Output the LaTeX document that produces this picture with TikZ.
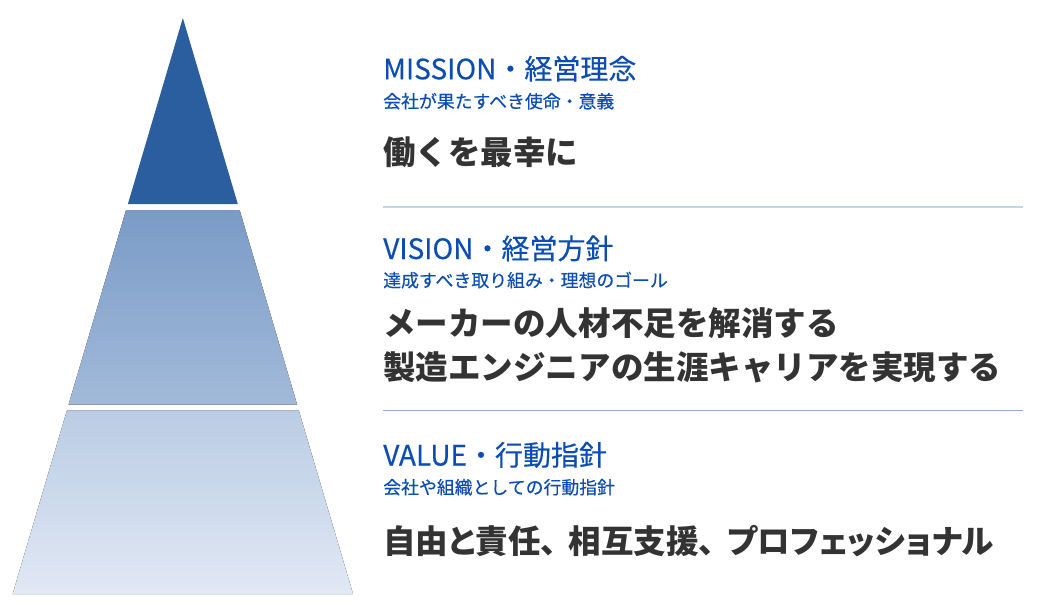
\documentclass[tikz,border=0pt]{standalone}
\usepackage{fontspec}
\setmainfont{Noto Sans CJK JP}
\newfontfamily\medfont{Noto Sans CJK JP}[FakeBold=0.35]
\definecolor{tblue}{HTML}{0B4DB3}
\definecolor{tdark}{HTML}{333333}
\definecolor{band1}{HTML}{2B5E9E}
\definecolor{band2t}{HTML}{7A9BC7}
\definecolor{band2b}{HTML}{A2BAD9}
\definecolor{band3t}{HTML}{BACCE4}
\definecolor{band3b}{HTML}{E1E8F4}
\definecolor{sepa}{HTML}{C3D4ED}
\definecolor{sepb}{HTML}{94ABDD}
\begin{document}
\begin{tikzpicture}[x=0.75pt,y=-0.75pt,
  titletext/.style={anchor=base west,inner sep=0pt,text=tblue,font=\medfont\fontsize{21}{25}\selectfont},
  subtext/.style={anchor=base west,inner sep=0pt,text=tblue,font=\medfont\fontsize{13.4}{16}\selectfont},
  maintext/.style={anchor=base west,inner sep=0pt,text=tdark,font=\bfseries\fontsize{24.4}{30}\selectfont},
  sepline/.style={line width=1.1pt}]
\fill[white] (0,0) rectangle (1041,613);
\useasboundingbox (0,0) rectangle (1041,613);
% pyramid
\fill[band1] (182.85,18) -- (237.8,204) -- (127.9,204) -- cycle;
\fill[top color=band2t,bottom color=band2b] (126.1,210) -- (239.6,210) -- (297.1,404.5) -- (68.6,404.5) -- cycle;
\fill[top color=band3t,bottom color=band3b] (66.9,410.5) -- (298.8,410.5) -- (353.05,594) -- (12.65,594) -- cycle;
% separators
\draw[sepline,sepa] (383,207) -- (1022.5,207);
\draw[sepline,sepb] (383,410.3) -- (1022.5,410.3);
% mission
\node[titletext] (mt) at (383,79.3) {MISSION・経営理念};
\node[subtext] (ms) at (383,108) {会社が果たすべき使命・意義};
\node[maintext] (mm) at (383,164.8) {働くを最幸に};
% vision
\node[titletext] (vt) at (383,259) {VISION・経営方針};
\node[subtext] (vs) at (383,287) {達成すべき取り組み・理想のゴール};
\node[maintext] (vm1) at (383,335.5) {メーカーの人材不足を解消する};
\node[maintext] (vm2) at (383,379.5) {製造エンジニアの生涯キャリアを実現する};
% value
\node[titletext] (lt) at (383,465.5) {VALUE・行動指針};
\node[subtext] (ls) at (383,494) {会社や組織としての行動指針};
\node[maintext] (lm) at (383,553.7) {\addfontfeature{RawFeature=+palt}自由と責任、\hspace{9pt}相互支援、\hspace{9pt}プロフェッショナル};
\end{tikzpicture}
\end{document}
